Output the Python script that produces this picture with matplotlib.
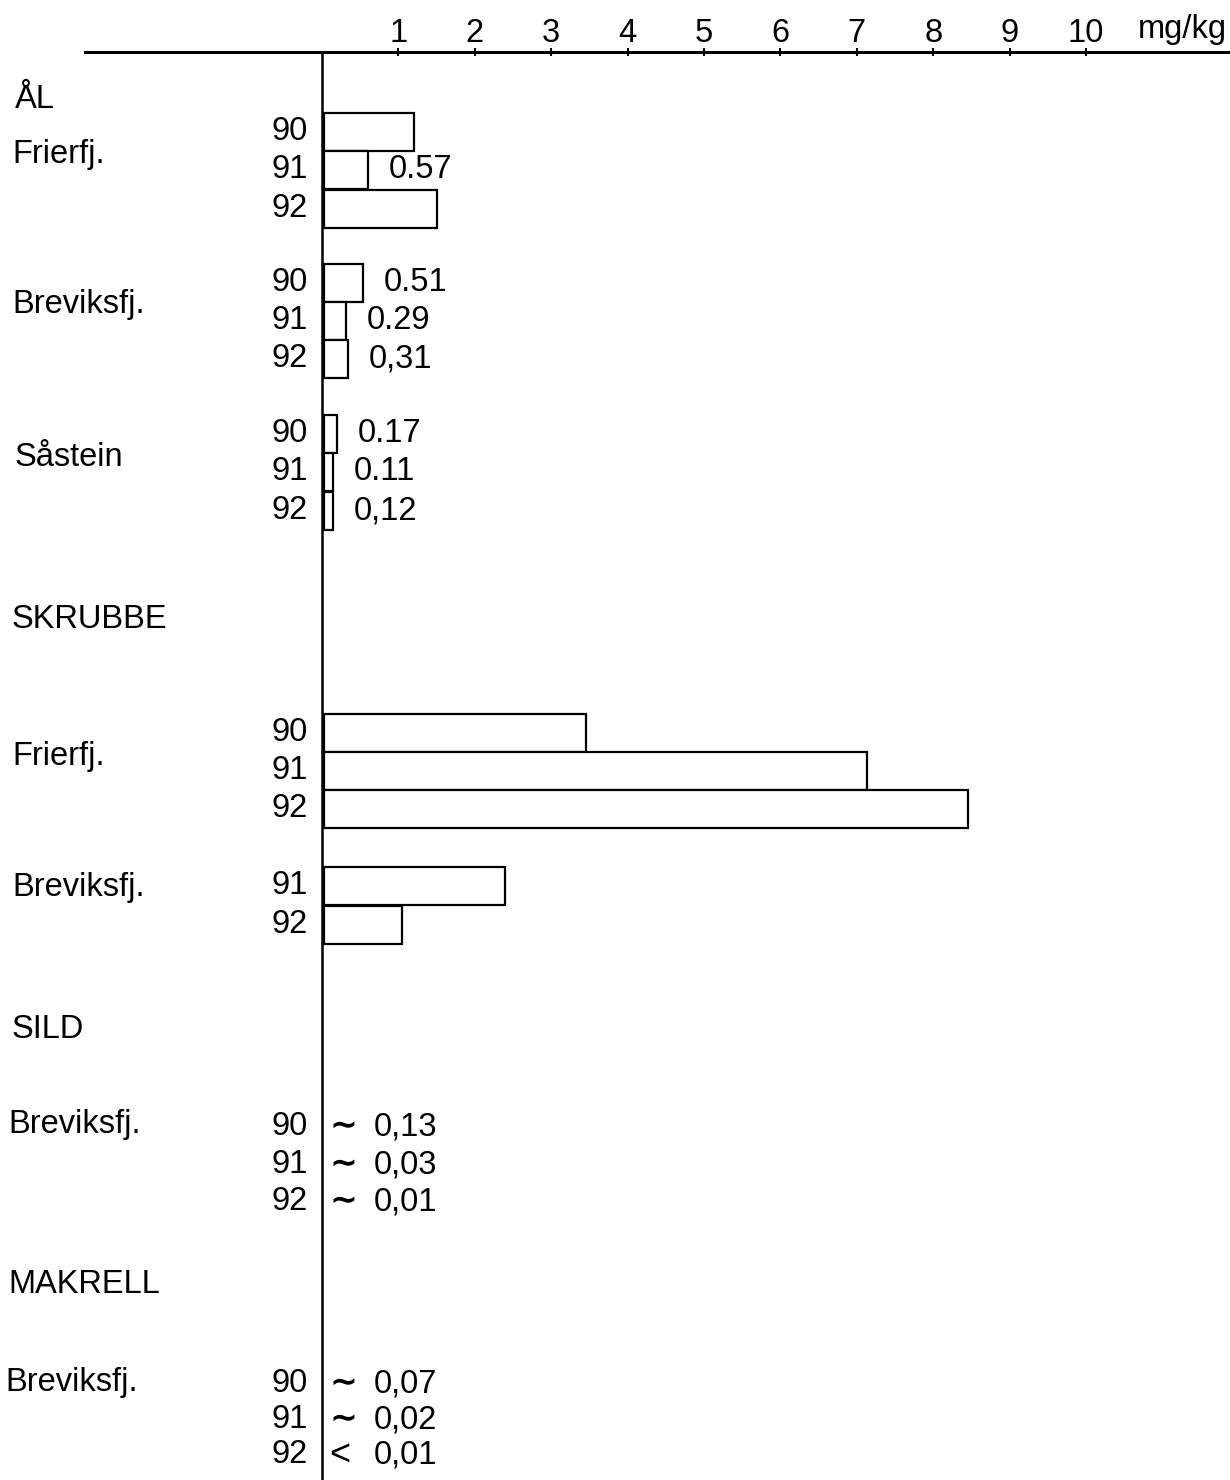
import matplotlib.pyplot as plt
from matplotlib.patches import Rectangle

plt.rcParams['font.family'] = ['Liberation Sans', 'DejaVu Sans']

# Kvikksolv i fisk, mg/kg
years_3 = ['90', '91', '92']
years_2 = ['91', '92']

al_frier = [1.18, 0.57, 1.47]
al_brevik = [0.51, 0.29, 0.31]
al_saastein = [0.17, 0.11, 0.12]
skrubbe_frier = [3.42, 7.11, 8.43]
skrubbe_brevik = [2.36, 1.02]
sild_brevik = [0.13, 0.03, 0.01]
makrell_brevik = [0.07, 0.02, 0.01]

al_frier_txt = [None, '0.57', None]
al_brevik_txt = ['0.51', '0.29', '0,31']
al_saastein_txt = ['0.17', '0.11', '0,12']
sild_txt = ['0,13', '0,03', '0,01']
sild_sign = ['∼', '∼', '∼']
makrell_txt = ['0,07', '0,02', '0,01']
makrell_sign = ['∼', '∼', '<']

ticks = list(range(1, 11))

FS = 23.5
ROW = 38

fig = plt.figure(figsize=(12.3, 14.8), dpi=100)
# axes: venstre kant ved x=85 px, null ved x=322 px, 76.4 px per enhet
px = 76.4
ax = fig.add_axes([85 / 1230, 0, (1228 - 85) / 1230, 1 - 52 / 1480])
ax.set_xlim(-(322 - 85) / px, (1228 - 322) / px)
ax.set_ylim(1480, 52)

for s in ['left', 'right', 'bottom']:
    ax.spines[s].set_visible(False)
ax.spines['top'].set_linewidth(2.2)
ax.xaxis.tick_top()
ax.set_xticks(ticks)
ax.set_xticklabels([str(t) for t in ticks], fontsize=FS)
ax.tick_params(axis='x', direction='inout', length=6, width=1.5, pad=-1)
ax.set_yticks([])
ax.text((1182 - 322) / px, 30, 'mg/kg', fontsize=FS, ha='center',
        va='center', clip_on=False)

# null-linja
ax.axvline(0, color='black', lw=1.8)


def bars(values, centers, years, texts=None):
    for i, v in enumerate(values):
        y = centers[i]
        ax.add_patch(Rectangle((0.03, y - ROW / 2), v, ROW, facecolor='white',
                               edgecolor='black', lw=1.6))
        ax.text(-14 / px, y, years[i], fontsize=FS, ha='right', va='center')
        if texts and texts[i]:
            ax.text(v + 0.3, y, texts[i], fontsize=FS, ha='left', va='center')


def signs(signs_, texts, centers, years):
    for i in range(len(texts)):
        y = centers[i]
        ax.text(-14 / px, y, years[i], fontsize=FS, ha='right', va='center')
        if signs_[i] == '<':
            ax.text(0.1, y, signs_[i], fontsize=26, ha='left', va='center')
        else:
            ax.text(0.1, y - 2, signs_[i], fontsize=24, ha='left',
                    va='center', family='DejaVu Sans', fontweight='bold')
        ax.text(0.68, y, texts[i], fontsize=FS, ha='left', va='center')


def label(y, txt, x=12):
    ax.text((x - 322) / px, y, txt, fontsize=FS, ha='left', va='center',
            clip_on=False)


label(100, 'ÅL', 15)
label(155, 'Frierfj.')
bars(al_frier, [132, 170, 209], years_3, al_frier_txt)
label(305, 'Breviksfj.')
bars(al_brevik, [283, 321, 359], years_3, al_brevik_txt)
label(458, 'Såstein', 15)
bars(al_saastein, [434, 472, 511], years_3, al_saastein_txt)

label(620, 'SKRUBBE')
label(757, 'Frierfj.')
bars(skrubbe_frier, [733, 771, 809], years_3)
label(888, 'Breviksfj.')
bars(skrubbe_brevik, [886, 925], years_2)

label(1030, 'SILD')
label(1125, 'Breviksfj.', 8)
signs(sild_sign, sild_txt, [1127, 1165, 1202], years_3)

label(1285, 'MAKRELL', 8)
label(1383, 'Breviksfj.', 5)
signs(makrell_sign, makrell_txt, [1384, 1420, 1455], years_3)

fig.savefig('out.png', dpi=100, facecolor='white')
